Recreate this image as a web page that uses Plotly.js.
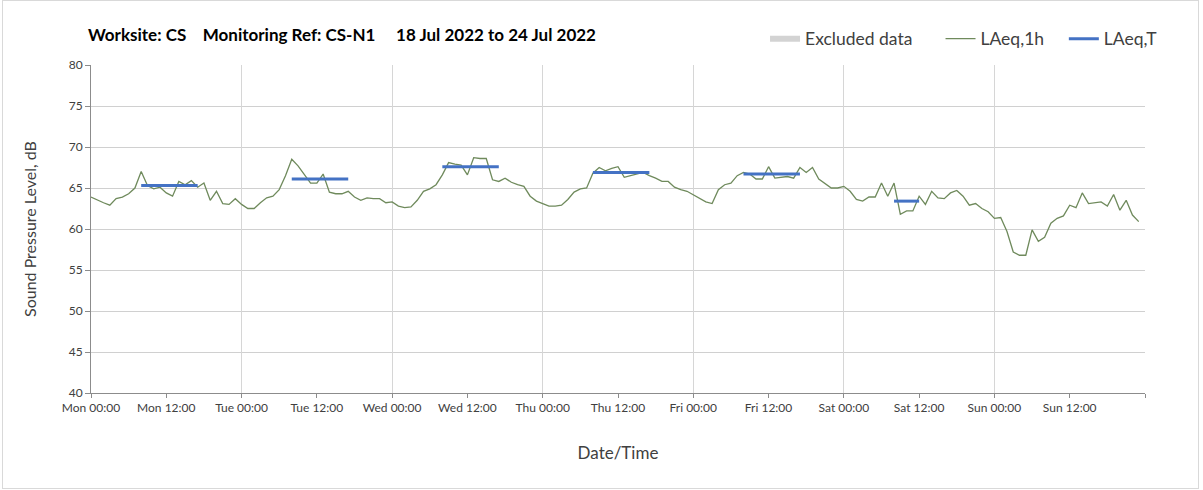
<!DOCTYPE html>
<html>
<head>
<meta charset="utf-8">
<script src="https://cdn.plot.ly/plotly-3.0.1.min.js"></script>
<style>
  html, body { margin: 0; padding: 0; background: #fff; }
  #frame { position: absolute; left: 2px; top: 0px; width: 1195px; height: 487px; border: 1px solid #d9d9d9; }
  #chart { position: absolute; left: 0; top: 0; width: 1203px; height: 490px; }
</style>
</head>
<body>
<div id="frame"></div>
<div id="chart"></div>
<script>
// Hourly LAeq,1h values (dB), Mon 18 Jul 2022 00:00 -> Sun 24 Jul 2022 23:00
const startTime = "2022-07-18T00:00:00";
const laeq1hMon = [63.9,63.5,63.2,62.9,63.7,63.9,64.3,65.0,67.0,65.3,64.9,65.1,64.4,64.0,65.8,65.4,65.9,65.1,65.6,63.5,64.6,63.1,63.0,63.7];
const laeq1hTue = [63.0,62.5,62.5,63.2,63.8,64.0,64.8,66.5,68.5,67.7,66.7,65.6,65.6,66.7,64.5,64.3,64.3,64.6,63.9,63.5,63.8,63.7,63.7,63.2];
const laeq1hWed = [63.3,62.8,62.6,62.7,63.5,64.6,64.9,65.4,66.6,68.1,67.9,67.8,66.6,68.7,68.6,68.6,66.0,65.8,66.2,65.7,65.4,65.2,64.0,63.4];
const laeq1hThu = [63.1,62.8,62.8,62.9,63.6,64.5,64.9,65.0,66.8,67.5,67.1,67.4,67.6,66.3,66.5,66.7,66.9,66.5,66.2,65.8,65.8,65.1,64.8,64.6];
const laeq1hFri = [64.2,63.7,63.3,63.1,64.8,65.4,65.6,66.5,66.9,66.7,66.1,66.1,67.6,66.2,66.3,66.4,66.2,67.5,66.9,67.5,66.1,65.6,65.0,65.0];
const laeq1hSat = [65.2,64.6,63.6,63.4,63.9,63.9,65.6,64.0,65.6,61.8,62.2,62.2,64.0,63.0,64.6,63.8,63.7,64.4,64.7,64.0,62.9,63.1,62.5,62.1];
const laeq1hSun = [61.3,61.4,59.7,57.2,56.8,56.8,59.9,58.5,59.0,60.7,61.3,61.6,62.9,62.6,64.4,63.1,63.2,63.3,62.8,64.2,62.3,63.5,61.7,60.9];

// LAeq,T period values (daytime periods)
const periodStart = ["2022-07-18 08:00","2022-07-19 08:00","2022-07-20 08:00","2022-07-21 08:00","2022-07-22 08:00","2022-07-23 08:00"];
const periodEnd   = ["2022-07-18 17:00","2022-07-19 17:00","2022-07-20 17:00","2022-07-21 17:00","2022-07-22 17:00","2022-07-23 12:00"];
const laeqT       = [65.3, 66.1, 67.6, 66.9, 66.7, 63.4];

// X tick labels (every 12 h)
const xTickText = ["Mon 00:00","Mon 12:00","Tue 00:00","Tue 12:00","Wed 00:00","Wed 12:00","Thu 00:00",
                   "Thu 12:00","Fri 00:00","Fri 12:00","Sat 00:00","Sat 12:00","Sun 00:00","Sun 12:00"];
const axisStart = "2022-07-18 00:00";
const axisEnd = "2022-07-25 00:00";

const laeq1h = [].concat(laeq1hMon, laeq1hTue, laeq1hWed, laeq1hThu, laeq1hFri, laeq1hSat, laeq1hSun);
const t0 = new Date(startTime + "Z").getTime();
function fmt(ms) {
  const d = new Date(ms);
  const p = n => String(n).padStart(2, "0");
  return d.getUTCFullYear() + "-" + p(d.getUTCMonth() + 1) + "-" + p(d.getUTCDate()) + " " + p(d.getUTCHours()) + ":00";
}
const hours = laeq1h.map((_, i) => fmt(t0 + i * 3600000));
const xTickVals = xTickText.map((_, i) => fmt(t0 + i * 12 * 3600000));

const FONT = "Lato, 'Open Sans', sans-serif";
const LEGFONT = { family: FONT, size: 17.5, color: "#404040" };

const traces = [];
traces.push({
  name: "Excluded data",
  legend: "legend",
  x: [null], y: [null],
  type: "scatter", mode: "none",
  fill: "toself", fillcolor: "#d3d3d3",
  xaxis: "x2", yaxis: "y",
  hoverinfo: "skip"
});
traces.push({
  name: "LAeq,1h",
  legend: "legend2",
  x: hours, y: laeq1h,
  type: "scatter", mode: "lines",
  line: { color: "#6f8a5c", width: 1.3 }
});
laeqT.forEach((v, i) => {
  traces.push({
    name: "LAeq,T",
    legend: "legend3",
    legendgroup: "T",
    showlegend: i === 0,
    x: [periodStart[i], periodEnd[i]], y: [v, v],
    type: "scatter", mode: "lines",
    line: { color: "#4472c4", width: 3 }
  });
});

function leg(x) {
  return { orientation: "h", x: x, xanchor: "left", y: 1.08, yanchor: "middle",
           font: LEGFONT, itemwidth: 30, bgcolor: "rgba(0,0,0,0)" };
}

const layout = {
  width: 1203, height: 490,
  paper_bgcolor: "rgba(0,0,0,0)",
  plot_bgcolor: "#fff",
  margin: { l: 91, r: 58, t: 65, b: 97 },
  font: { family: FONT, color: "#404040" },
  title: {
    text: "<b>Worksite: CS\u00A0\u00A0\u00A0 Monitoring Ref: CS-N1\u00A0\u00A0\u00A0\u00A0 18 Jul 2022 to 24 Jul 2022</b>",
    xref: "container", yref: "container",
    x: 88 / 1203, xanchor: "left",
    y: 1 - 35 / 490, yanchor: "middle",
    font: { family: FONT, size: 17, color: "#000" }
  },
  showlegend: true,
  legend: leg(0.6395),
  legend2: leg(0.806),
  legend3: leg(0.923),
  xaxis: {
    type: "date",
    range: [axisStart, axisEnd],
    tickmode: "array",
    tickvals: xTickVals,
    ticktext: xTickText,
    showgrid: false,
    zeroline: false,
    showline: true, linecolor: "#8c8c8c", linewidth: 1,
    ticks: "outside", ticklen: 4, tickcolor: "#8c8c8c",
    tickfont: { family: FONT, size: 12, color: "#404040" },
    title: { text: "Date/Time", font: { family: FONT, size: 17, color: "#404040" }, standoff: 32 },
    fixedrange: true
  },
  xaxis2: {
    type: "date",
    overlaying: "x", anchor: "y", side: "bottom",
    range: [axisStart, axisEnd],
    dtick: 24 * 3600000,
    tick0: axisStart,
    showgrid: true, gridcolor: "#d6d6d6", gridwidth: 1,
    showticklabels: false, ticks: "outside", ticklen: 4, tickcolor: "#8c8c8c",
    showline: false, zeroline: false
  },
  yaxis: {
    range: [40, 80],
    dtick: 5,
    showgrid: true, gridcolor: "#d0d0d0", gridwidth: 1,
    zeroline: false,
    showline: true, linecolor: "#8c8c8c", linewidth: 1,
    ticks: "outside", ticklen: 5, tickcolor: "#8c8c8c",
    tickfont: { family: FONT, size: 12, color: "#404040" },
    title: { text: "Sound Pressure Level, dB", font: { family: FONT, size: 16, color: "#404040" }, standoff: 28 },
    fixedrange: true
  }
};

Plotly.newPlot("chart", traces, layout, { displayModeBar: false, staticPlot: true });
</script>
</body>
</html>
